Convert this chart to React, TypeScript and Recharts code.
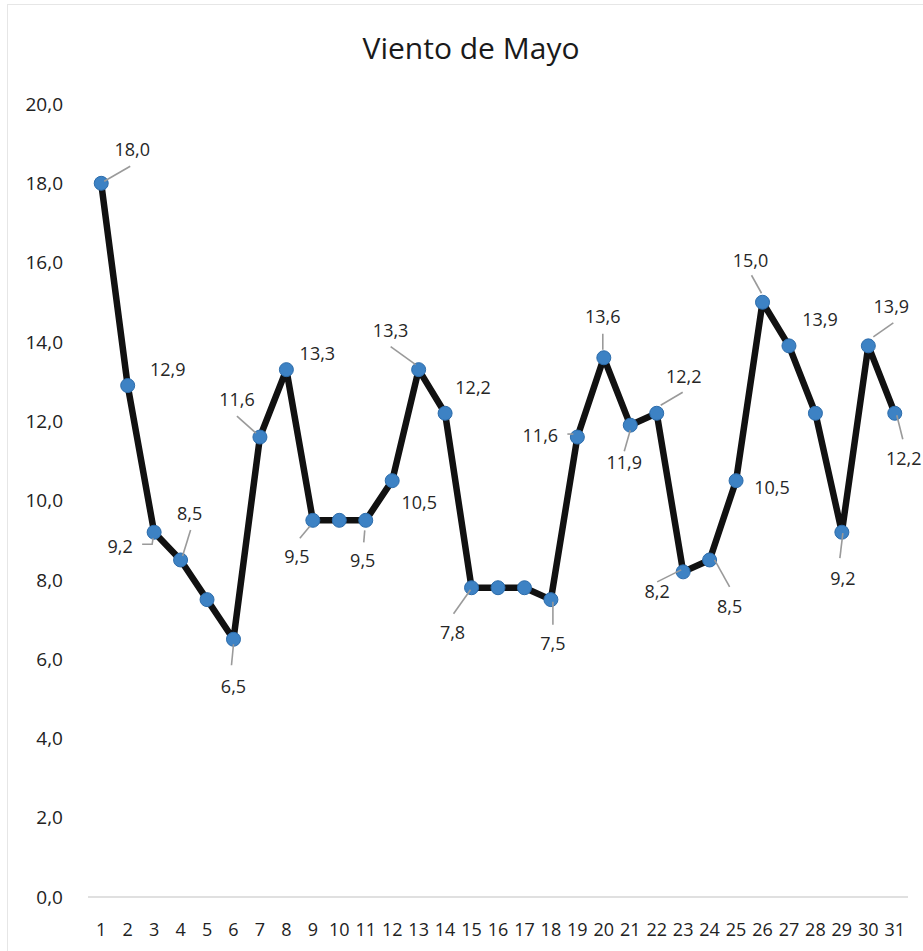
import React from "react";
import { LineChart, Line, XAxis, YAxis } from "recharts";

const title = "Viento de Mayo";
const days = [1,2,3,4,5,6,7,8,9,10,11,12,13,14,15,16,17,18,19,20,21,22,23,24,25,26,27,28,29,30,31];
const windSpeed = [18.0,12.9,9.2,8.5,7.5,6.5,11.6,13.3,9.5,9.5,9.5,10.5,13.3,12.2,7.8,7.8,7.8,7.5,11.6,13.6,11.9,12.2,8.2,8.5,10.5,15.0,13.9,12.2,9.2,13.9,12.2];
const yTicks = [0,2,4,6,8,10,12,14,16,18,20];
const hiddenLabels = [5,10,16,17,28];

const data = days.map((d, i) => ({ day: d, value: windSpeed[i] }));

const fmt = (v: number) => v.toFixed(1).replace(".", ",");

const FONT = "'Open Sans', 'Noto Sans', sans-serif";

// label placement (text-centre offset from point, optional leader polyline), by day
type Place = { dx: number; dy: number; lead?: number[][] };
const placement: Record<number, Place> = {
  1: { dx: 31, dy: -34, lead: [[3, -2], [29, -17]] },
  2: { dx: 40, dy: -16 },
  3: { dx: -34, dy: 14, lead: [[-12, 12], [-2, 12], [-1, 6]] },
  4: { dx: 9, dy: -46, lead: [[2, -4], [10, -30]] },
  6: { dx: 0, dy: 47, lead: [[0, 5], [-2, 26]] },
  7: { dx: -23, dy: -37, lead: [[-23, -21], [-4, -4]] },
  8: { dx: 31, dy: -16 },
  9: { dx: -16, dy: 36, lead: [[-3, 6], [-13, 18]] },
  11: { dx: -3, dy: 40, lead: [[-1, 10], [-2, 22]] },
  12: { dx: 27, dy: 22 },
  13: { dx: -28, dy: -39, lead: [[-28, -23], [-3, -5]] },
  14: { dx: 28, dy: -26 },
  15: { dx: -19, dy: 45, lead: [[-1, 2], [-18, 26]] },
  18: { dx: 2, dy: 44, lead: [[2, 2], [2, 25]] },
  19: { dx: -37, dy: -1, lead: [[-10, -3], [-4, -3]] },
  20: { dx: -1, dy: -41, lead: [[-1, -24], [-1, -8]] },
  21: { dx: -6, dy: 38, lead: [[0, 5], [-6, 26]] },
  22: { dx: 27, dy: -37, lead: [[4, -8], [26, -21]] },
  23: { dx: -26, dy: 20, lead: [[-2, -2], [-26, 10]] },
  24: { dx: 20, dy: 47, lead: [[5, 0], [20, 27]] },
  25: { dx: 36, dy: 7 },
  26: { dx: -12, dy: -42, lead: [[-11, -27], [-1, -9]] },
  27: { dx: 31, dy: -26 },
  29: { dx: 1, dy: 46, lead: [[1, 1], [-2, 26]] },
  30: { dx: 23, dy: -39, lead: [[5, -9], [25, -23]] },
  31: { dx: 9, dy: 45, lead: [[2, 2], [8, 26]] },
};

const renderLabel = (props: any) => {
  const { x, y, value, index } = props;
  const day = days[index];
  if (hiddenLabels.includes(day)) return null;
  const p = placement[day];
  if (!p || x == null || y == null) return null;
  return (
    <g key={`lbl-${index}`}>
      {p.lead && (
        <polyline
          points={p.lead.map(([a, b]) => `${x + a},${y + b}`).join(" ")}
          fill="none"
          stroke="#9a9a9a"
          strokeWidth={1.6}
        />
      )}
      <text
        x={x + p.dx}
        y={y + p.dy}
        dy="0.35em"
        textAnchor="middle"
        fontFamily={FONT}
        fontSize={18}
        fill="#262626"
      >
        {fmt(value)}
      </text>
    </g>
  );
};

export default function App() {
  return (
    <div style={{ position: "absolute", left: 0, top: 0, width: 923, height: 951, background: "#fff" }}>
      <LineChart
        width={923}
        height={951}
        data={data}
        margin={{ top: 104, right: 15, bottom: 14, left: 28 }}
      >
        <XAxis
          type="number"
          dataKey="day"
          domain={[0.5, 31.5]}
          ticks={days}
          interval={0}
          height={40}
          tickSize={0}
          tickMargin={26}
          axisLine={{ stroke: "#d6d6d6", strokeWidth: 1.5 }}
          tickLine={false}
          tick={{ fontFamily: FONT, fontSize: 18, fill: "#222" }}
        />
        <YAxis
          type="number"
          domain={[0, 20]}
          ticks={yTicks}
          interval={0}
          width={60}
          tickSize={0}
          tickMargin={25}
          axisLine={false}
          tickLine={false}
          tickFormatter={fmt}
          tick={{ fontFamily: FONT, fontSize: 19, fill: "#222" }}
        />
        <Line
          type="linear"
          dataKey="value"
          stroke="#111111"
          strokeWidth={6.5}
          strokeLinejoin="round"
          isAnimationActive={false}
          activeDot={false}
          dot={{ r: 7, fill: "#3d82c4", stroke: "#2c6cab", strokeWidth: 1 }}
          label={renderLabel}
        />
      </LineChart>
      <svg
        width={923}
        height={951}
        style={{ position: "absolute", left: 0, top: 0, pointerEvents: "none" }}
      >
        <rect x={7.5} y={4.5} width={930} height={960} fill="none" stroke="#e6e6e6" strokeWidth={1} />
        <text x={471} y={59} textAnchor="middle" fontFamily={FONT} fontSize={30} fill="#1a1a1a">
          {title}
        </text>
      </svg>
    </div>
  );
}
